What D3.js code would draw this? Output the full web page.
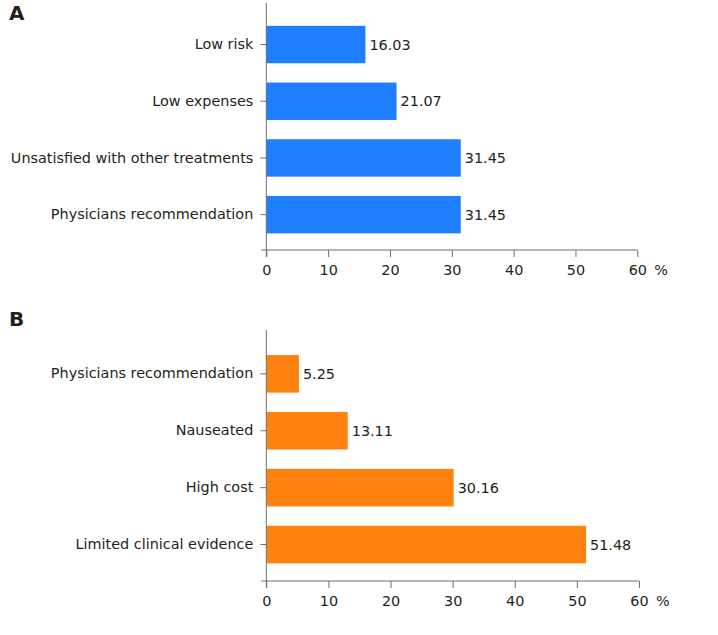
<!DOCTYPE html>
<html>
<head>
<meta charset="utf-8">
<script src="https://cdn.jsdelivr.net/npm/d3@7"></script>
<style>
  html, body { margin: 0; padding: 0; background: #fff; }
  svg { display: block; }
  text { font-family: "DejaVu Sans", Verdana, sans-serif; fill: #231f20; }
</style>
</head>
<body>
<svg id="chart" width="718" height="635"></svg>
<script>
const categoriesA = ["Low risk", "Low expenses", "Unsatisfied with other treatments", "Physicians recommendation"];
const valuesA = [16.03, 21.07, 31.45, 31.45];
const categoriesB = ["Physicians recommendation", "Nauseated", "High cost", "Limited clinical evidence"];
const valuesB = [5.25, 13.11, 30.16, 51.48];
const tickValues = [0, 10, 20, 30, 40, 50, 60];
const panelLetters = ["A", "B"];
const unitLabel = "%";

const svg = d3.select("#chart");
const fontSize = 14.4;
const axisColor = "#6d6e71";

const panels = [
  { letter: panelLetters[0], cats: categoriesA, vals: valuesA, color: "#1e80ff",
    x0: 266.3, x1: 637.3, top: 3, band: [16.2, 243], axisY: 250, letterY: 20 },
  { letter: panelLetters[1], cats: categoriesB, vals: valuesB, color: "#ff8210",
    x0: 266.3, x1: 639, top: 330, band: [345.4, 573], axisY: 581, letterY: 326 }
];

panels.forEach(p => {
  const g = svg.append("g");
  const x = d3.scaleLinear().domain([0, 60]).range([p.x0, p.x1]);
  const y = d3.scaleBand().domain(p.cats).range(p.band).paddingInner(0.34).paddingOuter(0.17);

  g.append("text").attr("x", 9).attr("y", p.letterY)
    .attr("font-size", 20).attr("font-weight", "bold").text(p.letter);

  // bars
  g.selectAll("rect.bar").data(p.cats).join("rect").attr("class", "bar")
    .attr("x", x(0)).attr("y", d => y(d))
    .attr("width", (d, i) => x(p.vals[i]) - x(0))
    .attr("height", y.bandwidth())
    .attr("fill", p.color);

  // value labels
  g.selectAll("text.val").data(p.cats).join("text").attr("class", "val")
    .attr("x", (d, i) => x(p.vals[i]) + 4)
    .attr("y", d => y(d) + y.bandwidth() / 2)
    .attr("dy", "0.36em")
    .attr("font-size", fontSize)
    .text((d, i) => p.vals[i].toFixed(2));

  // y axis
  const yAxis = g.append("g").attr("transform", `translate(${x(0)},0)`)
    .call(d3.axisLeft(y).tickSize(6).tickSizeOuter(0).tickPadding(7));
  yAxis.select(".domain").remove();
  yAxis.selectAll("line").attr("stroke", axisColor);
  yAxis.selectAll("text").attr("font-size", fontSize).attr("font-family", "DejaVu Sans, Verdana, sans-serif").attr("fill", "#231f20");

  // x axis
  const xAxis = g.append("g").attr("transform", `translate(0,${p.axisY})`)
    .call(d3.axisBottom(x).tickValues(tickValues).tickSize(7).tickSizeOuter(0).tickPadding(8));
  xAxis.select(".domain").remove();
  xAxis.selectAll("line").attr("stroke", axisColor);
  xAxis.selectAll("text").attr("font-size", fontSize).attr("font-family", "DejaVu Sans, Verdana, sans-serif").attr("fill", "#231f20");

  // axis lines
  g.append("line").attr("x1", x(0)).attr("x2", x(0)).attr("y1", p.top).attr("y2", p.axisY + 7)
    .attr("stroke", axisColor);
  g.append("line").attr("x1", x(0) - 5).attr("x2", x(60)).attr("y1", p.axisY).attr("y2", p.axisY)
    .attr("stroke", axisColor);

  // unit
  g.append("text").attr("x", x(60) + 17).attr("y", p.axisY + 15).attr("dy", "0.71em")
    .attr("font-size", fontSize).text(unitLabel);
});
</script>
</body>
</html>
